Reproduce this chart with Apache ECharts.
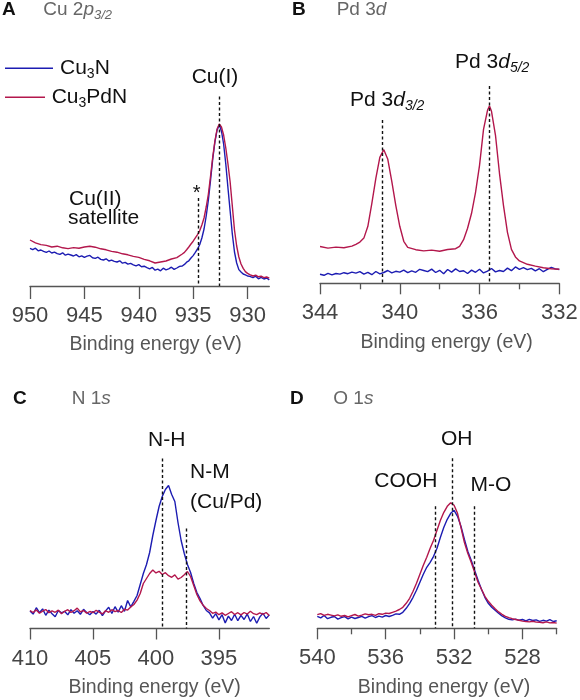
<!DOCTYPE html>
<html><head><meta charset="utf-8">
<script src="https://cdn.jsdelivr.net/npm/echarts@6/dist/echarts.min.js"></script>
<style>html,body{margin:0;padding:0;background:#fff}#c{width:580px;height:700px}</style>
</head><body><div id="c"></div>
<script>
// ---------- DATA (binding energy eV, intensity a.u.) ----------
const seriesNames = ['Cu3N', 'Cu3PdN'];
const xName = 'Binding energy (eV)';

// Panel A : Cu 2p3/2
const ticksA = [950, 945, 940, 935, 930];
const cu3nA = [[950,18.8],[949.75,18.2],[949.5,18.9],[949.25,17.6],[949,18.0],[948.75,17.3],[948.5,16.8],[948.25,17.5],[948,16.5],[947.75,16.9],[947.5,16.2],[947.25,15.8],[947,16.6],[946.75,15.4],[946.5,15.9],[946.25,15.5],[946,15.0],[945.75,15.7],[945.5,14.6],[945.25,15.1],[945,14.3],[944.75,14.9],[944.5,15.3],[944.25,14.1],[944,13.8],[943.75,14.4],[943.5,13.3],[943.25,13.0],[943,13.6],[942.75,12.5],[942.5,12.9],[942.25,12.3],[942,12.0],[941.75,12.6],[941.5,11.4],[941.25,11.8],[941,10.9],[940.75,11.3],[940.5,10.6],[940.25,10.1],[940,10.7],[939.75,9.6],[939.5,9.9],[939.25,9.2],[939,8.6],[938.75,9.3],[938.5,7.9],[938.25,8.4],[938,7.6],[937.75,8.9],[937.5,8.1],[937.25,8.6],[937,9.4],[936.75,8.3],[936.5,9.0],[936.25,9.8],[936,10.0],[935.8,10.8],[935.6,11.9],[935.4,12.6],[935.2,14.0],[935,15.2],[934.8,16.8],[934.6,18.5],[934.4,20.6],[934.2,24.0],[934,28.5],[933.8,35.0],[933.6,43.0],[933.4,53.0],[933.2,63.5],[933,72.0],[932.8,78.0],[932.6,80.5],[932.4,77.5],[932.2,71.0],[932,61.0],[931.8,49.0],[931.6,37.5],[931.4,26.0],[931.2,17.0],[931,11.5],[930.8,8.2],[930.6,7.0],[930.4,6.0],[930.2,5.6],[930,5.0],[929.8,4.8],[929.5,4.2],[929.25,4.9],[929,3.6],[928.75,4.3],[928.5,3.5],[928.25,4.0],[928,3.1]];
const cu3pdnA = [[950,23.0],[949.5,21.6],[949,20.7],[948.5,20.3],[948,19.5],[947.5,19.9],[947,19.1],[946.5,18.7],[946,19.2],[945.5,18.9],[945,19.5],[944.5,19.9],[944,19.4],[943.5,18.6],[943,18.1],[942.5,17.3],[942,16.9],[941.5,16.1],[941,15.6],[940.5,14.8],[940,14.3],[939.5,13.3],[939,12.6],[938.5,11.5],[938,12.0],[937.5,12.5],[937,13.5],[936.5,14.2],[936,16.0],[935.8,16.8],[935.6,18.1],[935.4,19.5],[935.2,21.0],[935,22.4],[934.8,24.1],[934.6,25.7],[934.4,27.6],[934.2,30.5],[934,34.0],[933.8,39.5],[933.6,46.0],[933.4,55.0],[933.2,64.5],[933,72.5],[932.8,78.5],[932.6,81.0],[932.4,79.5],[932.2,75.5],[932,69.0],[931.8,61.0],[931.6,52.0],[931.4,40.0],[931.2,28.0],[931,20.0],[930.8,14.5],[930.6,11.0],[930.4,8.8],[930.2,7.2],[930,6.3],[929.8,5.7],[929.5,5.0],[929.25,5.4],[929,4.6],[928.75,4.9],[928.5,4.2],[928.25,4.5],[928,3.9]];
const refA = [[932.6, 94.7], [934.5, 44]];

// Panel B : Pd 3d
const ticksB = [344, 340, 336, 332];
const minorB = [342, 338, 334];
const cu3nB = [[344,4.5],[343.8,4.0],[343.6,5.0],[343.4,4.2],[343.2,4.9],[343,4.6],[342.8,5.3],[342.6,4.8],[342.4,5.6],[342.2,5.1],[342,5.8],[341.8,4.6],[341.6,5.5],[341.4,4.3],[341.2,5.9],[341,4.7],[340.8,5.4],[340.6,6.4],[340.4,5.2],[340.2,6.0],[340,5.6],[339.8,6.6],[339.6,5.3],[339.4,6.2],[339.2,5.5],[339,7.0],[338.8,6.4],[338.6,5.8],[338.4,7.1],[338.2,5.4],[338,6.5],[337.8,4.8],[337.6,6.9],[337.4,5.6],[337.2,7.2],[337,5.9],[336.8,6.3],[336.6,4.9],[336.4,6.6],[336.2,5.5],[336,7.0],[335.8,5.2],[335.6,6.1],[335.4,7.4],[335.2,5.7],[335,6.4],[334.8,5.9],[334.6,7.6],[334.4,6.3],[334.2,8.2],[334,7.0],[333.8,7.8],[333.6,6.8],[333.4,7.5],[333.2,6.2],[333,7.3],[332.8,5.8],[332.6,7.0],[332.4,8.0],[332.2,7.2],[332,6.9]];
const cu3pdnB = [[344,18.4],[343.6,17.6],[343.2,18.1],[342.8,17.8],[342.4,18.6],[342.2,19.5],[342,20.6],[341.8,22.6],[341.6,28.5],[341.4,40.0],[341.2,52.5],[341,63.0],[340.8,66.8],[340.6,62.0],[340.4,51.0],[340.2,39.0],[340,28.5],[339.8,21.0],[339.6,18.0],[339.2,16.8],[338.8,16.2],[338.4,16.6],[338,16.0],[337.6,16.9],[337.2,17.3],[337,18.5],[336.8,21.8],[336.6,27.5],[336.4,35.0],[336.2,45.5],[336,59.0],[335.8,77.0],[335.6,86.5],[335.5,88.7],[335.4,86.0],[335.2,74.0],[335,55.0],[334.8,39.0],[334.6,25.5],[334.4,17.0],[334.2,13.2],[334,11.2],[333.6,9.5],[333.2,8.6],[332.8,7.8],[332.4,7.3],[332,7.0]];
const refB = [[340.9, 81.7], [335.5, 98.7]];

// Panel C : N 1s
const ticksC = [410, 405, 400, 395];
const cu3nC = [[410,8.8],[409.75,7.2],[409.5,10.4],[409.25,7.9],[409,9.8],[408.75,6.6],[408.5,9.2],[408.25,7.4],[408,5.9],[407.75,9.0],[407.5,7.8],[407.25,8.6],[407,6.8],[406.75,9.4],[406.5,7.6],[406.25,8.9],[406,7.1],[405.75,9.6],[405.5,8.0],[405.25,6.9],[405,8.5],[404.75,7.2],[404.5,9.1],[404.25,6.4],[404,8.8],[403.75,10.6],[403.5,7.5],[403.25,10.9],[403,8.2],[402.75,11.4],[402.5,8.6],[402.25,14.0],[402,10.8],[401.75,13.6],[401.5,16.5],[401.25,22.0],[401,27.5],[400.75,32.0],[400.5,38.0],[400.25,46.5],[400,54.0],[399.75,61.0],[399.5,66.0],[399.25,69.5],[399,71.5],[398.75,67.0],[398.5,63.5],[398.25,53.0],[398,44.0],[397.75,37.5],[397.5,32.0],[397.25,28.0],[397,22.5],[396.75,18.0],[396.5,15.0],[396.25,11.5],[396,9.0],[395.75,7.8],[395.5,5.2],[395.25,7.4],[395,4.3],[394.75,6.9],[394.5,2.8],[394.25,6.2],[394,4.0],[393.75,7.1],[393.5,3.9],[393.25,6.6],[393,4.5],[392.75,7.3],[392.5,3.5],[392.25,6.0],[392,2.6],[391.75,5.8],[391.5,7.6],[391.25,5.0],[391,6.8]];
const cu3pdnC = [[410,9.0],[409.75,8.0],[409.5,9.3],[409.25,7.6],[409,8.7],[408.75,9.5],[408.5,7.9],[408.25,8.8],[408,8.1],[407.75,9.2],[407.5,7.4],[407.25,8.6],[407,9.4],[406.75,8.0],[406.5,8.9],[406.25,10.2],[406,8.3],[405.75,9.0],[405.5,7.7],[405.25,8.5],[405,7.9],[404.75,9.1],[404.5,8.2],[404.25,7.3],[404,8.9],[403.75,8.1],[403.5,9.4],[403.25,8.4],[403,9.0],[402.75,8.0],[402.5,9.6],[402.25,9.2],[402,10.8],[401.75,12.0],[401.5,14.2],[401.25,17.5],[401,22.5],[400.75,25.0],[400.5,27.5],[400.25,29.2],[400,27.8],[399.75,28.6],[399.5,27.0],[399.25,27.9],[399,26.4],[398.75,25.6],[398.5,26.8],[398.25,24.7],[398,25.5],[397.75,26.9],[397.5,28.5],[397.25,26.0],[397,21.5],[396.75,17.0],[396.5,13.8],[396.25,11.6],[396,10.0],[395.75,9.0],[395.5,7.6],[395.25,8.2],[395,6.9],[394.75,7.8],[394.5,6.6],[394.25,7.5],[394,8.4],[393.75,7.0],[393.5,7.9],[393.25,6.8],[393,8.0],[392.75,7.2],[392.5,8.6],[392.25,7.4],[392,6.9],[391.75,7.8],[391.5,7.1],[391.25,8.0],[391,6.5]];
const refC = [[399.5, 85], [397.6, 50]];

// Panel D : O 1s
const ticksD = [540, 536, 532, 528];
const minorD = [538, 534, 530, 526];
const cu3nD = [[540,6.0],[539.8,5.2],[539.6,6.4],[539.4,4.8],[539.2,5.5],[539,5.9],[538.8,4.6],[538.6,5.3],[538.4,5.8],[538.2,4.7],[538,5.6],[537.8,4.9],[537.6,5.4],[537.4,6.0],[537.2,5.1],[537,5.8],[536.8,6.3],[536.6,5.4],[536.4,6.1],[536.2,5.6],[536,6.4],[535.8,5.9],[535.6,6.5],[535.4,7.2],[535.2,7.0],[535,8.0],[534.8,10.0],[534.6,12.5],[534.4,15.5],[534.2,19.0],[534,23.0],[533.8,27.0],[533.6,30.5],[533.4,33.0],[533.2,36.0],[533,40.0],[532.8,45.5],[532.6,50.5],[532.4,54.5],[532.2,57.5],[532,59.0],[531.8,56.0],[531.6,51.0],[531.4,44.5],[531.2,38.5],[531,34.0],[530.8,29.0],[530.6,24.0],[530.4,19.5],[530.2,15.5],[530,12.5],[529.8,10.5],[529.6,9.0],[529.4,7.5],[529.2,6.2],[529,5.2],[528.8,4.5],[528.6,4.2],[528.4,4.6],[528.2,4.0],[528,4.4],[527.8,3.7],[527.6,4.5],[527.4,3.9],[527.2,4.2],[527,3.5],[526.8,4.0],[526.6,3.6],[526.4,4.3],[526.2,3.4],[526,3.8]];
const cu3pdnD = [[540,6.8],[539.8,7.3],[539.6,6.5],[539.4,7.0],[539.2,6.6],[539,6.2],[538.8,6.7],[538.6,6.0],[538.4,6.4],[538.2,5.7],[538,6.3],[537.8,6.9],[537.6,6.1],[537.4,6.6],[537.2,7.2],[537,6.8],[536.8,7.0],[536.6,6.5],[536.4,7.3],[536.2,7.0],[536,7.6],[535.8,7.4],[535.6,8.0],[535.4,8.6],[535.2,9.4],[535,10.5],[534.8,12.5],[534.6,15.0],[534.4,18.5],[534.2,22.5],[534,27.0],[533.8,31.5],[533.6,35.5],[533.4,40.0],[533.2,44.0],[533,49.0],[532.8,54.0],[532.6,58.0],[532.4,61.0],[532.2,62.8],[532,61.5],[531.8,57.5],[531.6,50.5],[531.4,43.0],[531.2,37.5],[531,33.0],[530.8,28.0],[530.6,23.0],[530.4,19.5],[530.2,16.0],[530,13.5],[529.8,11.5],[529.6,9.8],[529.4,8.2],[529.2,7.0],[529,6.0],[528.8,5.3],[528.6,4.8],[528.4,4.4],[528.2,4.0],[528,3.6],[527.8,3.4],[527.6,3.2],[527.4,3.5],[527.2,3.1],[527,3.0],[526.8,2.8],[526.6,3.2],[526.4,2.7],[526.2,2.9],[526,2.6]];
const refD = [[533.1, 61], [532.1, 85], [530.8, 61]];

// ---------- STYLE / LAYOUT ----------
const FONT = "'Liberation Sans', Arial, Helvetica, sans-serif";
const BLUE = '#1c1cb2', RED = '#b3174c', AX = '#555';

const panels = [
  {g:0, min:928, max:950, ticks:ticksA, minor:null, tickLen:13, s:[cu3nA, cu3pdnA], ref:refA, grid:{left:30, top:86, width:239.3, height:200}, shift:12},
  {g:1, min:332, max:344, ticks:ticksB, minor:minorB, tickLen:11, s:[cu3nB, cu3pdnB], ref:refB, grid:{left:320, top:83.3, width:239.3, height:200}, shift:14},
  {g:2, min:391, max:410, ticks:ticksC, minor:null, tickLen:11, s:[cu3nC, cu3pdnC], ref:refC, grid:{left:30, top:428.5, width:239.3, height:200}, shift:10},
  {g:3, min:526, max:540, ticks:ticksD, minor:minorD, tickLen:11, s:[cu3nD, cu3pdnD], ref:refD, grid:{left:317.3, top:428.3, width:239.4, height:200}, shift:14}
];

const grids = [], xAxes = [], yAxes = [], series = [];
panels.forEach(p => {
  grids.push(Object.assign({containLabel:false, outerBoundsMode:'none'}, p.grid));
  xAxes.push({
    type:'value', gridIndex:p.g, min:p.min, max:p.max, inverse:true, position:'bottom',
    axisLine:{show:true, onZero:false, lineStyle:{color:AX, width:1.3}},
    axisTick:{show:true, length:p.tickLen, customValues:p.ticks, lineStyle:{color:AX, width:1.3}},
    axisLabel:{show:true, customValues:p.ticks, margin:19, fontSize:22, color:'#444', fontFamily:FONT, showMinLabel:true, showMaxLabel:true},
    splitLine:{show:false},
    name:xName, nameLocation:'middle', nameGap:49,
    nameTextStyle:{fontSize:19.5, color:'#555', fontFamily:FONT, padding:[0,0,0,p.shift]}
  });
  yAxes.push({type:'value', gridIndex:p.g, min:0, max:100, show:false});
});
// minor tick axes
let yIdx = [];
panels.forEach(p => {
  if (!p.minor) return;
  xAxes.push({
    type:'value', gridIndex:p.g, min:p.min, max:p.max, inverse:true, position:'bottom', offset:0,
    axisLine:{show:false},
    axisTick:{show:true, length:6, customValues:p.minor, lineStyle:{color:AX, width:1.3}},
    axisLabel:{show:false}, splitLine:{show:false}
  });
});
panels.forEach(p => {
  [BLUE, RED].forEach((c, k) => {
    const s = {
      type:'line', name:seriesNames[k], xAxisIndex:p.g, yAxisIndex:p.g, data:p.s[k],
      showSymbol:false, symbol:'none', lineStyle:{color:c, width:1.4}, itemStyle:{color:c},
      z: 3 + k, animation:false
    };
    if (k === 1) {
      s.markLine = {
        silent:true, symbol:['none','none'], label:{show:false}, animation:false,
        lineStyle:{color:'#111', type:[3,2.5], width:1.4},
        data: p.ref.map(r => [{coord:[r[0], r[1]]}, {coord:[r[0], 0]}])
      };
    }
    series.push(s);
  });
});

// ---------- TEXT ----------
const rich = {
  n:{fontSize:21, fontFamily:FONT, fill:'#111'},
  s:{fontSize:14, fontFamily:FONT, fill:'#111', padding:[12,0,0,0]},
  i:{fontSize:21, fontFamily:FONT, fill:'#111', fontStyle:'italic'},
  si:{fontSize:14, fontFamily:FONT, fill:'#111', fontStyle:'italic', padding:[12,0,0,0]},
  b:{fontSize:19, fontFamily:FONT, fill:'#111', fontWeight:'bold'},
  g:{fontSize:19, fontFamily:FONT, fill:'#666'},
  gi:{fontSize:19, fontFamily:FONT, fill:'#666', fontStyle:'italic'},
  gs:{fontSize:13, fontFamily:FONT, fill:'#666', fontStyle:'italic', padding:[11,0,0,0]},
  st:{fontSize:20, fontFamily:FONT, fill:'#111'}
};
function T(x, y, text, align) {
  return {type:'text', x:x, y:y, z:10, silent:true,
    style:{text:text, rich:rich, align:align||'left', verticalAlign:'middle', textAlign:align||'left', textVerticalAlign:'middle', fill:'#111', font:'21px ' + FONT}};
}
function L(x1, x2, y, c) {
  return {type:'line', z:10, silent:true, shape:{x1:x1, y1:y, x2:x2, y2:y}, style:{stroke:c, lineWidth:1.4}};
}
const graphics = [
  T(2, 10, '{b|A}'), T(43.3, 10, '{g|Cu 2}{gi|p}{gs|3/2}'),
  L(5, 53, 68.3, BLUE), T(60, 68.5, '{n|Cu}{s|3}{n|N}'),
  L(5, 45, 97.3, RED), T(51.7, 97.5, '{n|Cu}{s|3}{n|PdN}'),
  T(215, 77, '{n|Cu(I)}', 'center'),
  T(69, 199, '{n|Cu(II)}'), T(68, 218.5, '{n|satellite}'),
  T(196.7, 193, '{st|*}', 'center'),
  T(292, 10, '{b|B}'), T(336.7, 10, '{g|Pd 3}{gi|d}'),
  T(455, 62, '{n|Pd 3}{i|d}{si|5/2}'),
  T(350, 100, '{n|Pd 3}{i|d}{si|3/2}'),
  T(13, 399, '{b|C}'), T(71.7, 398.5, '{g|N 1}{gi|s}'),
  T(166.7, 440, '{n|N-H}', 'center'),
  T(190, 472, '{n|N-M}'), T(190, 502, '{n|(Cu/Pd)}'),
  T(290, 399, '{b|D}'), T(333.3, 398.5, '{g|O 1}{gi|s}'),
  T(456.7, 439, '{n|OH}', 'center'),
  T(405.8, 481, '{n|COOH}', 'center'),
  T(490.8, 485, '{n|M-O}', 'center')
];

const chart = echarts.init(document.getElementById('c'), null, {renderer:'canvas'});
chart.setOption({
  animation:false,
  backgroundColor:'#fff',
  grid:grids, xAxis:xAxes, yAxis:yAxes, series:series,
  graphic:{elements:graphics}
});
</script>
</body></html>
